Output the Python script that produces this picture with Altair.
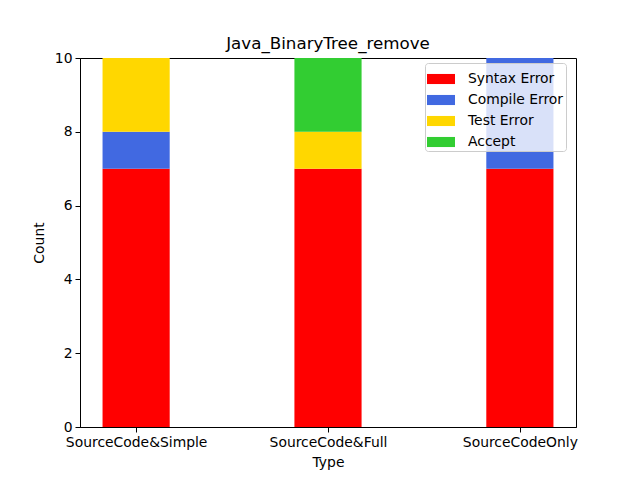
import json
import altair as alt
import pandas as pd

types = ["SourceCode&Simple", "SourceCode&Full", "SourceCodeOnly"]
statuses = ["Syntax Error", "Compile Error", "Test Error", "Accept"]
colors = ["#FF0000", "#4169E1", "#FFD700", "#32CD32"]
syntax_error = [7, 7, 7]
compile_error = [1, 0, 3]
test_error = [2, 1, 0]
accept = [0, 2, 0]
y_ticks = [0, 2, 4, 6, 8, 10]

series = [syntax_error, compile_error, test_error, accept]
rows = []
for si, (name, vals) in enumerate(zip(statuses, series)):
    for ti, t in enumerate(types):
        rows.append({"Type": t, "pos": ti, "Status": name, "order": si, "count": vals[ti]})
df = pd.DataFrame(rows)

FONT = "DejaVu Sans"
label_expr = json.dumps(types) + "[datum.value]"

chart = (
    alt.Chart(df)
    .transform_stack(stack="count", groupby=["pos"], sort=[alt.SortField("order", "ascending")], as_=["y0", "y1"])
    .transform_calculate(x0="datum.pos - 0.175", x1="datum.pos + 0.175")
    .mark_rect(stroke=None)
    .encode(
        x=alt.X(
            "x0:Q",
            scale=alt.Scale(domain=[-0.2925, 2.2925], nice=False, zero=False),
            axis=alt.Axis(values=[0, 1, 2], labelExpr=label_expr, title="Type", grid=False),
        ),
        x2="x1:Q",
        y=alt.Y(
            "y0:Q",
            scale=alt.Scale(domain=[0, 10], nice=False, padding=0),
            axis=alt.Axis(values=y_ticks, title="Count", grid=False),
        ),
        y2="y1:Q",
        color=alt.Color(
            "Status:N",
            scale=alt.Scale(domain=statuses, range=colors),
            legend=alt.Legend(
                title=None,
                orient="none",
                legendX=345,
                legendY=5,
                symbolType="M-1,-0.36H1V0.36H-1Z",
                symbolSize=784,
                symbolStrokeWidth=0,
                symbolOpacity=1,
                labelFont=FONT,
                labelFontSize=13.9,
                labelColor="black",
                labelOffset=13,
                rowPadding=0,
                padding=2,
                fillColor="rgba(255,255,255,0.8)",
                strokeColor="#cccccc",
                cornerRadius=3,
            ),
        ),
    )
    .properties(
        width=496,
        height=369,
        title=alt.TitleParams("Java_BinaryTree_remove", font=FONT, fontSize=16.7, fontWeight="normal", color="black", offset=3, dy=5),
        autosize=alt.AutoSizeParams(type="none"),
        padding={"left": 80, "top": 58, "right": 64, "bottom": 53},
    )
    .configure_view(stroke="black", strokeWidth=1)
    .configure_axis(
        domainColor="black",
        tickColor="black",
        tickSize=5,
        labelFont=FONT,
        labelFontSize=13.9,
        labelColor="black",
        titleFont=FONT,
        titleFontSize=13.9,
        titleFontWeight="normal",
        titleColor="black",
        labelPadding=3,
    )
    .configure_axisX(titlePadding=7)
    .configure_axisY(titlePadding=8)
)

chart.save("out.html", embed_options={"renderer": "svg", "actions": False})
